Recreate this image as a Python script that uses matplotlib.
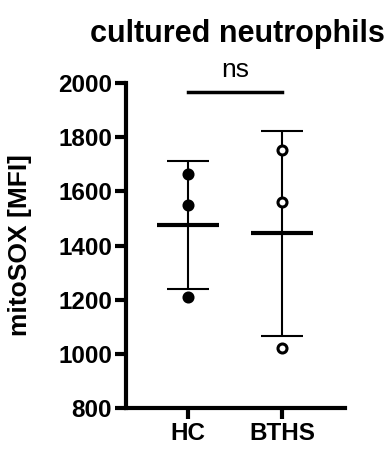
import numpy as np
import matplotlib
matplotlib.use('Agg')
import matplotlib.pyplot as plt

plt.rcParams['font.family'] = ['Liberation Sans', 'DejaVu Sans']

groups = ['HC', 'BTHS']
hc = [1665, 1550, 1210]
bths = [1752, 1560, 1022]
values = [hc, bths]
filled = [True, False]

fig = plt.figure(figsize=(3.9, 4.51), dpi=100)
ax = fig.add_axes([0.323, 0.0953, 0.562, 0.7207])

for i, (vals, fill) in enumerate(zip(values, filled)):
    m = np.mean(vals)
    sd = np.std(vals, ddof=1)
    # mean line and SD whiskers
    ax.plot([i - 0.33, i + 0.33], [m, m], color='black', lw=3, solid_capstyle='butt', zorder=3)
    ax.errorbar(i, m, yerr=sd, color='black', lw=1.5, capsize=15, capthick=1.5, zorder=2)
    ax.scatter([i] * len(vals), vals, s=42,
               facecolor='black' if fill else 'white',
               edgecolor='black', linewidths=2.2, zorder=4)

# significance bar
ax.plot([0, 1], [1965, 1965], color='black', lw=2.5, clip_on=False)
ax.text(0.5, 2005, 'ns', ha='center', va='bottom', fontsize=19)

ax.set_xlim(-0.66, 1.67)
ax.set_ylim(800, 2000)
ax.set_yticks(np.arange(800, 2001, 200))
ax.set_xticks(range(len(groups)))
ax.set_xticklabels(groups)

for s in ['top', 'right']:
    ax.spines[s].set_visible(False)
for s in ['left', 'bottom']:
    ax.spines[s].set_linewidth(3)
ax.tick_params(width=3, length=8, labelsize=17.5, pad=2)
for lab in ax.get_xticklabels() + ax.get_yticklabels():
    lab.set_fontweight('bold')

ax.set_ylabel('mitoSOX [MFI]', fontsize=19, fontweight='bold')
ax.yaxis.set_label_coords(-0.43, 0.5)
fig.text(0.61, 0.925, 'cultured neutrophils', ha='center', va='center',
         fontsize=22, fontweight='bold')

fig.savefig('out.png', dpi=100)
